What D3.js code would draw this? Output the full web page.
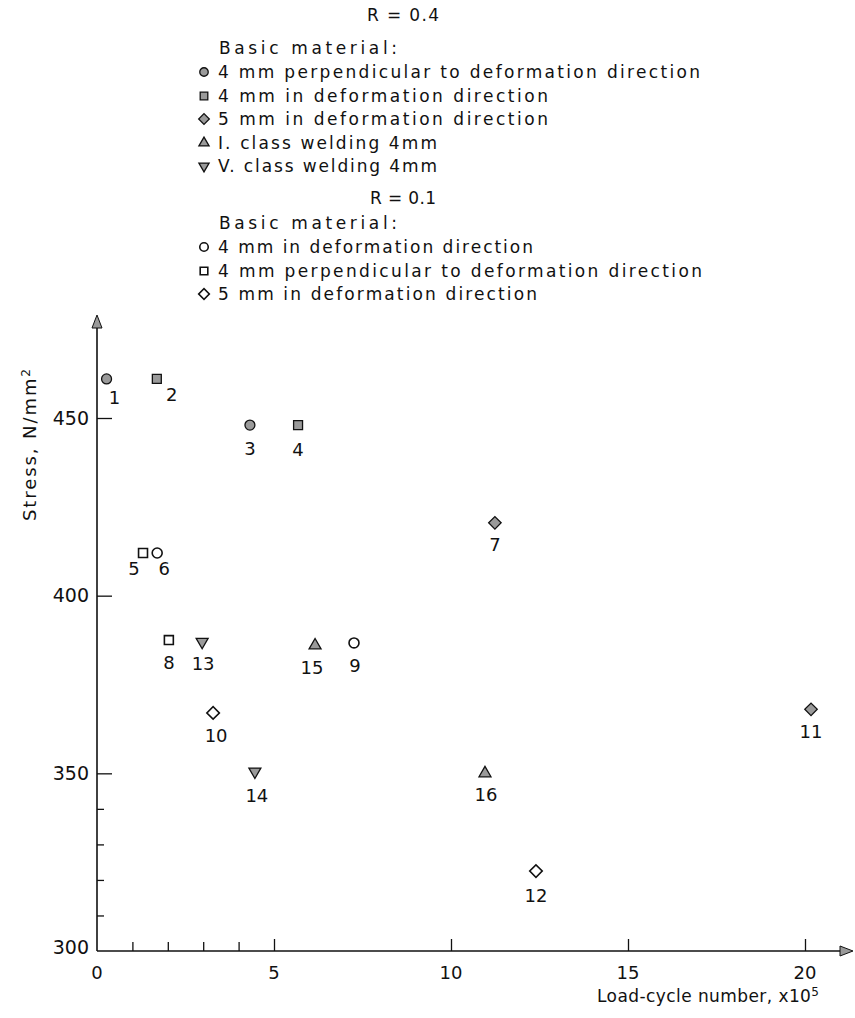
<!DOCTYPE html>
<html>
<head>
<meta charset="utf-8">
<script src="https://cdn.jsdelivr.net/npm/d3@7"></script>
<style>
  html, body { margin: 0; padding: 0; background: #fff; }
  svg { display: block; }
  text { font-family: "DejaVu Sans", "Liberation Sans", sans-serif; fill: #111; }
</style>
</head>
<body>
<svg id="chart" width="855" height="1018"></svg>
<script>
// ---------- data ----------
const pointIds = [1, 2, 3, 4, 5, 6, 7, 8, 9, 10, 11, 12, 13, 14, 15, 16];
const loadCycles = [0.27, 1.69, 4.32, 5.68, 1.3, 1.7, 11.24, 2.03, 7.26, 3.28, 20.17, 12.4, 2.97, 4.46, 6.16, 10.96]; // x10^5
const stressValues = [461, 461, 448, 448, 412, 412, 420.5, 387.5, 386.7, 367, 368, 322.5, 387, 350.5, 386, 350];
const pointSeries = ["A", "B", "A", "B", "G", "F", "C", "G", "F", "H", "C", "H", "E", "E", "D", "D"];

const seriesKeys = ["A", "B", "C", "D", "E", "F", "G", "H"];
const seriesLabels = [
  "4 mm perpendicular to deformation direction",
  "4 mm in deformation direction",
  "5 mm in deformation direction",
  "I. class welding 4mm",
  "V. class welding 4mm",
  "4 mm in deformation direction",
  "4 mm perpendicular to deformation direction",
  "5 mm in deformation direction"
];
const groupTitles = ["R = 0.4", "R = 0.1"];
const groupSubtitle = "Basic material:";

const xMajorTicks = [0, 5, 10, 15, 20];
const xMinorTicks = [1, 2, 3, 4];
const yMajorTicks = [300, 350, 400, 450];
const yMinorTicks = [310, 320, 330, 340];

// ---------- styles / layout ----------
const shapeOf = { A: "circle", B: "square", C: "diamond", D: "up", E: "down", F: "circle", G: "square", H: "diamond" };
const filledOf = { A: true, B: true, C: true, D: true, E: true, F: false, G: false, H: false };
// label offsets (dx, dy) relative to each marker, in px
const labelOffsets = [[8, 19], [15, 16], [0, 24], [0, 25], [-9, 16], [7, 16], [0, 22], [0, 23], [1, 23], [3, 23], [0, 22], [0, 25], [1, 22], [2, 24], [-3, 22], [1, 21]];

const svg = d3.select("#chart");
const x = d3.scaleLinear().domain([0, 20]).range([97, 805]);
const y = d3.scaleLinear().domain([300, 450]).range([951, 418]);

const grayFill = "#9a9a9a";
const ink = "#111";

const sizeOf = { circle: 78, square: 80, diamond: 78, up: 62, down: 62 };
function symbolPath(shape) {
  const s = sizeOf[shape];
  if (shape === "circle") return d3.symbol(d3.symbolCircle, s)();
  if (shape === "up" || shape === "down") return d3.symbol(d3.symbolTriangle, s)();
  return d3.symbol(d3.symbolSquare, s)();
}
function symbolTransform(shape) {
  if (shape === "diamond") return " rotate(45)";
  if (shape === "down") return " rotate(180)";
  return "";
}

function drawMarker(g, key, cx, cy, scale) {
  const shape = shapeOf[key];
  const k = scale || 1;
  g.append("path")
    .attr("d", symbolPath(shape))
    .attr("transform", `translate(${cx},${cy}) scale(${k})` + symbolTransform(shape))
    .attr("fill", filledOf[key] ? grayFill : "#fff")
    .attr("stroke", ink)
    .attr("stroke-width", (filledOf[key] ? 1.3 : 1.6) / k);
}

// ---------- legend ----------
const legend = svg.append("g");
const textFont = 17;
function legendText(tx, ty, str, len, anchor) {
  const t = legend.append("text")
    .attr("x", tx).attr("y", ty)
    .attr("dy", "0.35em")
    .attr("font-size", textFont)
    .attr("text-anchor", anchor || "start")
    .text(str);
  if (len) t.attr("textLength", len).attr("lengthAdjust", "spacing");
  return t;
}
// group R = 0.4
legendText(403, 15, groupTitles[0], 72, "middle");
legendText(219, 48, groupSubtitle, 178);
const rowY1 = [72, 96, 119, 143, 166];
const rowEnd1 = [700, 548, 548, 437, 437];
["A", "B", "C", "D", "E"].forEach((k, i) => {
  drawMarker(legend, k, 204, rowY1[i], 0.85);
  legendText(218, rowY1[i], seriesLabels[seriesKeys.indexOf(k)], rowEnd1[i] - 218);
});
// group R = 0.1
legendText(403, 198, groupTitles[1], 66, "middle");
legendText(219, 223, groupSubtitle, 178);
const rowY2 = [247, 271, 294];
const rowEnd2 = [533, 702, 537];
["F", "G", "H"].forEach((k, i) => {
  drawMarker(legend, k, 204, rowY2[i], 0.85);
  legendText(218, rowY2[i], seriesLabels[seriesKeys.indexOf(k)], rowEnd2[i] - 218);
});

// ---------- axes ----------
const axes = svg.append("g");
const x0 = x(0), yb = y(300);
axes.append("line").attr("x1", x0).attr("x2", 842).attr("y1", yb).attr("y2", yb).attr("stroke", ink).attr("stroke-width", 1.6);
axes.append("line").attr("x1", x0).attr("x2", x0).attr("y1", yb).attr("y2", 327).attr("stroke", ink).attr("stroke-width", 1.6);
axes.append("path").attr("d", `M${x0 - 5},${328} L${x0 + 5},${328} L${x0},${315} Z`).attr("fill", grayFill).attr("stroke", ink).attr("stroke-width", 1);
axes.append("path").attr("d", `M${840},${yb - 5} L${840},${yb + 5} L${853},${yb} Z`).attr("fill", grayFill).attr("stroke", ink).attr("stroke-width", 1);

const xAxis = d3.axisTop(x).tickValues(xMajorTicks.filter(v => v > 0)).tickSize(12).tickFormat("");
axes.append("g").attr("transform", `translate(0,${yb})`).call(xAxis)
  .call(g => g.select(".domain").remove())
  .call(g => g.selectAll("line").attr("stroke", ink).attr("stroke-width", 1.3));
const xAxisMinor = d3.axisTop(x).tickValues(xMinorTicks).tickSize(9).tickFormat("");
axes.append("g").attr("transform", `translate(0,${yb})`).call(xAxisMinor)
  .call(g => g.select(".domain").remove())
  .call(g => g.selectAll("line").attr("stroke", ink).attr("stroke-width", 1.3));
axes.selectAll(".xl").data(xMajorTicks).enter().append("text")
  .attr("x", d => x(d)).attr("y", yb + 22).attr("dy", "0.35em")
  .attr("text-anchor", "middle").attr("font-size", 18).text(d => d);

const yAxis = d3.axisRight(y).tickValues(yMajorTicks.filter(v => v > 300)).tickSize(15).tickFormat("");
axes.append("g").attr("transform", `translate(${x0},0)`).call(yAxis)
  .call(g => g.select(".domain").remove())
  .call(g => g.selectAll("line").attr("stroke", ink).attr("stroke-width", 1.3));
const yAxisMinor = d3.axisRight(y).tickValues(yMinorTicks).tickSize(7).tickFormat("");
axes.append("g").attr("transform", `translate(${x0},0)`).call(yAxisMinor)
  .call(g => g.select(".domain").remove())
  .call(g => g.selectAll("line").attr("stroke", ink).attr("stroke-width", 1.3));
axes.selectAll(".yl").data(yMajorTicks).enter().append("text")
  .attr("x", x0 - 8).attr("y", d => y(d) - (d === 300 ? 4 : 0)).attr("dy", "0.35em")
  .attr("text-anchor", "end").attr("font-size", 19).text(d => d);

const yTitle = axes.append("text")
  .attr("transform", `translate(30,445) rotate(-90)`)
  .attr("text-anchor", "middle").attr("font-size", 18).attr("dy", "0.35em")
  .attr("textLength", 152).attr("lengthAdjust", "spacing");
yTitle.append("tspan").text("Stress, N/mm");
yTitle.append("tspan").attr("dy", "-0.5em").attr("font-size", 12).text("2");

const xTitle = axes.append("text")
  .attr("x", 597).attr("y", 1002).attr("font-size", 17)
  .attr("textLength", 222).attr("lengthAdjust", "spacing");
xTitle.append("tspan").text("Load-cycle number, x10");
xTitle.append("tspan").attr("dy", "-0.5em").attr("font-size", 12).text("5");

// ---------- points ----------
const pts = svg.append("g");
pointIds.forEach((id, i) => {
  const cx = x(loadCycles[i]), cy = y(stressValues[i]);
  drawMarker(pts, pointSeries[i], cx, cy, 1);
  pts.append("text")
    .attr("x", cx + labelOffsets[i][0]).attr("y", cy + labelOffsets[i][1])
    .attr("dy", "0.35em").attr("text-anchor", "middle").attr("font-size", 18)
    .text(id);
});
</script>
</body>
</html>
